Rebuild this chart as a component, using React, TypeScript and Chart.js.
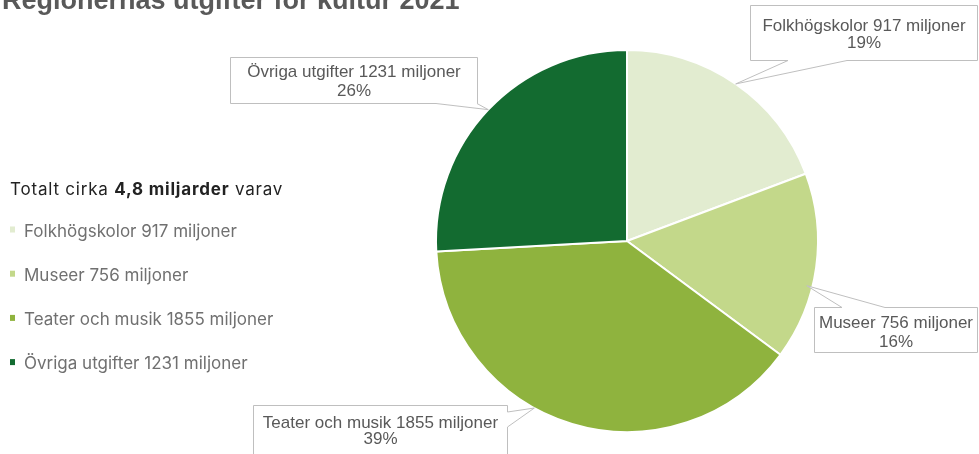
import React, { useEffect, useRef } from "react";
import { Chart, registerables } from "chart.js";

Chart.register(...registerables);

const titleText = "Regionernas utgifter för kultur 2021";
const categories = ["Folkhögskolor", "Museer", "Teater och musik", "Övriga utgifter"];
const valuesMillions = [917, 756, 1855, 1231];
const sliceColors = ["#e2ecd0", "#c3d88a", "#8fb33e", "#136b30"];
const totalPrefix = "Totalt cirka ";
const totalBold = "4,8 miljarder";
const totalSuffix = " varav";
const unit = "miljoner";

// callout placement (style, not data)
type Callout = {
  box: { x: number; y: number; w: number; h: number };
  side: "top" | "right" | "bottom";
  base: [number, number];
  shiftDeg: number;
  rf: number;
  textY: number;
  gap: number;
};
const callouts: Callout[] = [
  { box: { x: 750, y: 5, w: 228, h: 56 }, side: "bottom", base: [788, 847], shiftDeg: 0, rf: 1, textY: 26, gap: 17 },
  { box: { x: 814, y: 307, w: 164, h: 46 }, side: "top", base: [842, 885], shiftDeg: 6, rf: 0.97, textY: 21, gap: 19 },
  { box: { x: 253, y: 405, w: 255, h: 70 }, side: "right", base: [412, 427], shiftDeg: 12.3, rf: 1, textY: 23, gap: 16 },
  { box: { x: 230, y: 57, w: 248, h: 47 }, side: "bottom", base: [436, 477], shiftDeg: 0, rf: 1, textY: 20, gap: 19 },
];

const calloutFont = '17px "Liberation Sans", Arial, sans-serif';
const legendFont = '17px Inter, "Noto Sans", sans-serif';
const legendBoldFont = 'bold 17px Inter, "Noto Sans", sans-serif';

const overlayPlugin = {
  id: "overlay",
  afterDraw(chart: any) {
    const ctx: any = chart.ctx;
    const meta = chart.getDatasetMeta(0);
    const total = valuesMillions.reduce((a, b) => a + b, 0);
    ctx.save();

    // title
    ctx.font = 'bold 27px "Liberation Sans", Arial, sans-serif';
    ctx.fillStyle = "#595959";
    ctx.textAlign = "left";
    ctx.textBaseline = "alphabetic";
    ctx.fillText(titleText, 2, 9);

    // legend header
    let x = 10;
    ctx.letterSpacing = "0.8px";
    ctx.fillStyle = "#222222";
    ctx.font = legendFont;
    ctx.fillText(totalPrefix, x, 195);
    x += ctx.measureText(totalPrefix).width;
    ctx.font = legendBoldFont;
    ctx.fillText(totalBold, x, 195);
    x += ctx.measureText(totalBold).width;
    ctx.font = legendFont;
    ctx.fillText(totalSuffix, x, 195);
    ctx.letterSpacing = "0px";

    // legend items
    categories.forEach((c, i) => {
      const y = 236.5 + i * 44.2;
      ctx.fillStyle = sliceColors[i];
      ctx.fillRect(10, y - 10, 5, 6);
      ctx.fillStyle = "#707070";
      ctx.font = legendFont;
      ctx.fillText(`${c} ${valuesMillions[i]} ${unit}`, 24, y);
    });

    // callouts
    meta.data.forEach((arc: any, i: number) => {
      const co = callouts[i];
      const p = arc.getProps(["x", "y", "startAngle", "endAngle", "outerRadius"], true);
      const a = (p.startAngle + p.endAngle) / 2 + (co.shiftDeg * Math.PI) / 180;
      const tx = p.x + Math.cos(a) * p.outerRadius * co.rf;
      const ty = p.y + Math.sin(a) * p.outerRadius * co.rf;
      const { x: bx, y: by, w, h } = co.box;
      const r = bx + w;
      const b = by + h;
      ctx.beginPath();
      ctx.moveTo(bx + 0.5, by + 0.5);
      if (co.side === "top") {
        ctx.lineTo(co.base[0], by + 0.5);
        ctx.lineTo(tx, ty);
        ctx.lineTo(co.base[1], by + 0.5);
      }
      ctx.lineTo(r - 0.5, by + 0.5);
      if (co.side === "right") {
        ctx.lineTo(r - 0.5, co.base[0]);
        ctx.lineTo(tx, ty);
        ctx.lineTo(r - 0.5, co.base[1]);
      }
      ctx.lineTo(r - 0.5, b - 0.5);
      if (co.side === "bottom") {
        ctx.lineTo(co.base[1], b - 0.5);
        ctx.lineTo(tx, ty);
        ctx.lineTo(co.base[0], b - 0.5);
      }
      ctx.lineTo(bx + 0.5, b - 0.5);
      ctx.closePath();
      ctx.fillStyle = "#ffffff";
      ctx.fill();
      ctx.strokeStyle = "#bfbfbf";
      ctx.lineWidth = 1;
      ctx.stroke();

      const cx = bx + w / 2;
      ctx.fillStyle = "#595959";
      ctx.font = calloutFont;
      ctx.textAlign = "center";
      ctx.fillText(`${categories[i]} ${valuesMillions[i]} ${unit}`, cx, by + co.textY);
      ctx.fillText(`${Math.round((valuesMillions[i] / total) * 100)}%`, cx, by + co.textY + co.gap);
      ctx.textAlign = "left";
    });

    ctx.restore();
  },
};

export default function App() {
  const ref = useRef<HTMLCanvasElement | null>(null);
  useEffect(() => {
    if (!ref.current) return;
    const chart = new Chart(ref.current, {
      type: "pie",
      data: {
        labels: categories,
        datasets: [
          {
            data: valuesMillions,
            backgroundColor: sliceColors,
            borderColor: "#ffffff",
            borderWidth: 2,
          },
        ],
      },
      options: {
        responsive: false,
        animation: false,
        devicePixelRatio: 1,
        layout: { padding: { top: 49, bottom: 21, left: 435, right: 160 } },
        plugins: {
          legend: { display: false },
          tooltip: { enabled: false },
          title: { display: false },
        },
      },
      plugins: [overlayPlugin],
    });
    return () => chart.destroy();
  }, []);
  return (
    <div style={{ position: "fixed", left: 0, top: 0, width: 979, height: 454, background: "#fff" }}>
      <canvas ref={ref} width={979} height={454} style={{ display: "block" }} />
    </div>
  );
}
